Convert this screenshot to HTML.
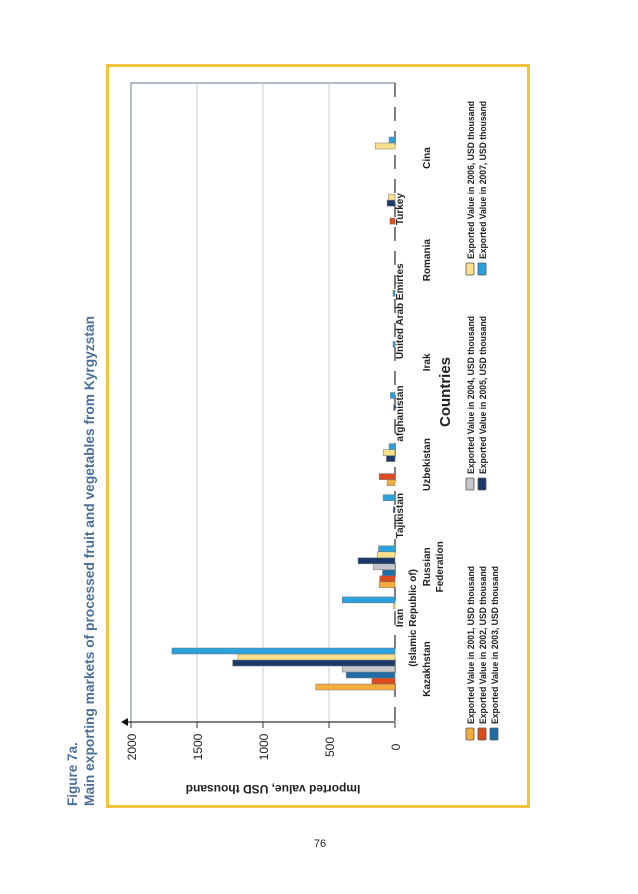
<!DOCTYPE html>
<html><head><meta charset="utf-8"><style>
html,body{margin:0;padding:0;background:#fff;}
svg{display:block;font-family:"Liberation Sans",sans-serif;}
</style></head><body>
<svg id="chart" width="638" height="894" viewBox="0 0 638 894">
  <g fill="#4a6f9a" font-weight="bold" font-size="13.5">
    <text transform="translate(77,806) rotate(-90)">Figure 7a.</text>
    <text transform="translate(94,806) rotate(-90)" textLength="490" lengthAdjust="spacingAndGlyphs">Main exporting markets of processed fruit and vegetables from Kyrgyzstan</text>
  </g>
  <rect x="107.5" y="65.5" width="421" height="741" fill="none" stroke="#f2c440" stroke-width="3"/>
  <g id="grid"></g>
  <g id="bars"></g>
  <g id="labels"></g>
  <g id="legend"></g>
  <text x="320" y="847" font-size="11" text-anchor="middle" fill="#222">76</text>
</svg>
<script>
const categories = ["Kazakhstan", "Iran|(Islamic Republic of)", "Russian|Federation", "Tajikistan", "Uzbekistan", "afghanistan", "Irak", "United Arab Emirtes", "Romania", "Turkey", "Cina"];
const seriesNames = ["Exported Value in 2001, USD thousand","Exported Value in 2002, USD thousand","Exported Value in 2003, USD thousand","Exported Value in 2004, USD thousand","Exported Value in 2005, USD thousand","Exported Value in 2006, USD thousand","Exported Value in 2007, USD thousand"];
const v2001 = [600, 0, 120, 0, 60, 0, 0, 0, 0, 0, 0];
const v2002 = [175, 0, 115, 0, 120, 0, 0, 0, 0, 38, 0];
const v2003 = [370, 0, 95, 0, 0, 0, 0, 0, 0, 0, 0];
const v2004 = [400, 0, 165, 0, 0, 0, 0, 0, 0, 0, 0];
const v2005 = [1230, 0, 280, 12, 65, 10, 0, 0, 0, 60, 0];
const v2006 = [1190, 10, 135, 0, 90, 0, 0, 0, 0, 50, 150];
const v2007 = [1690, 400, 125, 90, 45, 35, 15, 15, 0, 0, 45];
const ticks = [0, 500, 1000, 1500, 2000];
const colors = ["#f4ab3c","#dc4a1e","#1f6ea6","#c3c6cc","#1b3a6b","#f8e08c","#2aa0dc"];
const NS = "http://www.w3.org/2000/svg";
const X0 = 395, XSCALE = 264/2000;
const xOf = v => X0 - v*XSCALE;
const catTop = i => 648 - i*51.1;
const BW = 6;
function mk(tag, attrs, parent){const e=document.createElementNS(NS,tag);for(const k in attrs)e.setAttribute(k,attrs[k]);parent.appendChild(e);return e;}
const grid=document.getElementById('grid'), bars=document.getElementById('bars'), labels=document.getElementById('labels'), legend=document.getElementById('legend');
let pb = mk('path',{d:'M131,722 L131,83 L395,83',fill:'none',stroke:'#7f8fa8','stroke-width':1.2},grid);


ticks.forEach(t=>{
  const x=xOf(t);
  if(t>0 && t<2000){const g=mk('line',{x1:x,y1:83,x2:x,y2:722,stroke:'#c8ccd2','stroke-width':1},grid);
  
  }
  const tk=mk('line',{x1:x,y1:722,x2:x,y2:728,stroke:'#333','stroke-width':1},grid);
  
  
  const tl=mk('text',{transform:`translate(${x+5},747) rotate(-90)`,'text-anchor':'middle','font-size':12,fill:'#222'},labels);
  tl.textContent=t;
  
  
});
const ax=mk('line',{x1:126,y1:722,x2:395,y2:722,stroke:'#333','stroke-width':1.2},grid);


const arr=mk('path',{d:'M121,722 L128,718 L128,726 Z',fill:'#111'},grid);


const base=mk('line',{x1:395,y1:83,x2:395,y2:722,stroke:'#555','stroke-width':1.5,'stroke-dasharray':'14 10'},grid);


const series=[v2001,v2002,v2003,v2004,v2005,v2006,v2007];
series.forEach((arrv,s)=>{
  arrv.forEach((v,i)=>{
    if(v<=0) return;
    const y=catTop(i)+(6-s)*BW;
    const r=mk('rect',{x:xOf(v),y:y,width:v*XSCALE,height:BW,fill:colors[s],stroke:'#777','stroke-width':0.5},bars);
    
    
  });
});
categories.forEach((c,i)=>{
  const cy=catTop(i)+21;
  const even=i%2===0;
  const lines=c.split('|');
  const x0 = even?430:403;
  lines.forEach((ln,k)=>{
    const t=mk('text',{transform:`translate(${x0+k*13},${cy}) rotate(-90)`,'text-anchor':'middle','font-size':10,'font-weight':'bold',fill:'#222'},labels);
    t.textContent=ln;
    
    
  });
});
const ct=mk('text',{transform:'translate(450,392) rotate(-90)','text-anchor':'middle','font-size':15,'font-weight':'bold',fill:'#222'},labels);
ct.textContent='Countries';


const yt=mk('text',{transform:'translate(273,785) rotate(180)','text-anchor':'middle','font-size':12,'font-weight':'bold',fill:'#222'},labels);
yt.textContent='Imported value, USD thousand';


const groups=[{s:[0,1,2],y:740},{s:[3,4],y:490},{s:[5,6],y:275}];
groups.forEach(g=>{
  g.s.forEach((s,k)=>{
    const x=466+k*12;
    const sq=mk('rect',{x:x,y:g.y-12,width:8,height:12,fill:colors[s],stroke:'#555','stroke-width':0.8,rx:1},legend);
    
    
    const t=mk('text',{transform:`translate(${x+8},${g.y-16}) rotate(-90)`,'font-size':9.5,'font-weight':'bold',fill:'#222',textLength:158,lengthAdjust:'spacingAndGlyphs'},legend);
    t.textContent=seriesNames[s];
    
    
  });
});
</script>
</body></html>
